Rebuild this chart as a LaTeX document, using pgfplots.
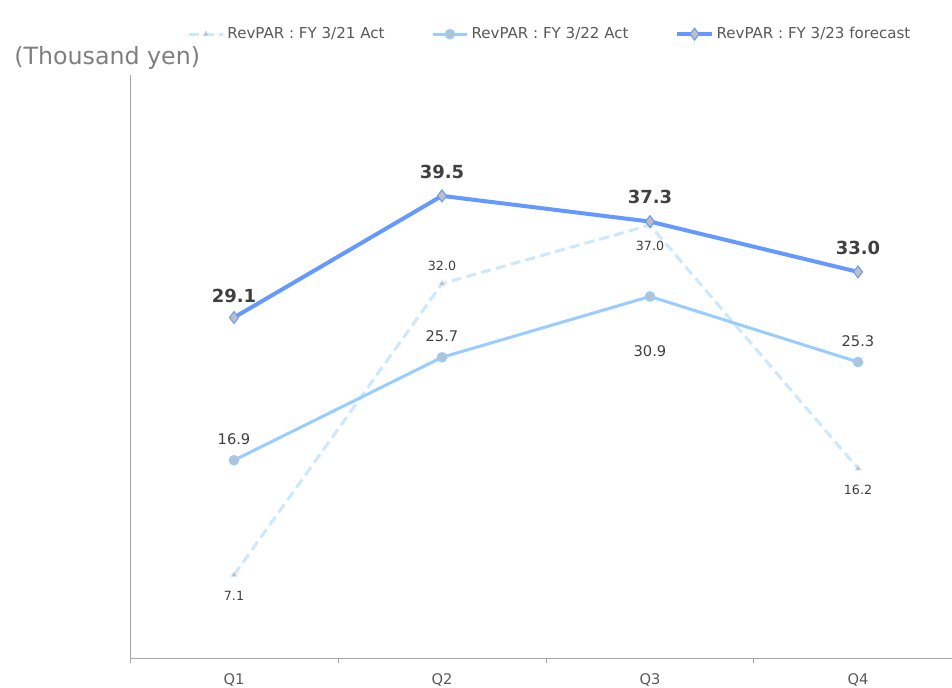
\documentclass[border=0pt]{standalone}
\usepackage{pgfplots}
\usepackage{pgfplotstable}
\pgfplotsset{compat=1.18}
\usepackage{fontspec}
\setmainfont{DejaVu Sans}

\definecolor{fcblue}{HTML}{6699FF}
\definecolor{actB}{HTML}{99CCFF}
\definecolor{actA}{HTML}{CCE8FF}
\definecolor{mkgray}{HTML}{BFBFBF}
\definecolor{axgray}{HTML}{A6A6A6}
\definecolor{txtdark}{HTML}{404040}
\definecolor{txtmid}{HTML}{595959}
\definecolor{txtlight}{HTML}{7F7F7F}

% quarter index, RevPAR (thousand yen), label offset (pt)
\pgfplotstableread{
x y dy
0 7.1 -15.75
1 32.0 13.5
2 37.0 -15.75
3 16.2 -15.75
}\fyA
\pgfplotstableread{
x y dy
0 16.9 15.75
1 25.7 15.75
2 30.9 -41
3 25.3 15.75
}\fyB
\pgfplotstableread{
x y dy
0 29.1 16.5
1 39.5 18
2 37.3 18.5
3 33.0 18
}\fyC

\pgfplotsset{
  value label/.style={
    point meta=y,
    visualization depends on={\thisrow{dy}\as\dy},
    nodes near coords={\pgfmathprintnumber[fixed,zerofill,precision=1,assume math mode=true]{\pgfplotspointmeta}},
    every node near coord/.append style={anchor=center, yshift=\dy pt, text=txtdark, #1},
  },
}

\begin{document}
\begin{tikzpicture}
\useasboundingbox (0,0) rectangle (714pt,515.25pt);
\node[anchor=west, inner sep=0pt, text=txtlight, font=\fontsize{17.8}{20}\selectfont]
  at (10.5pt,471.5pt) {(Thousand yen)};
\begin{axis}[
  at={(97.5pt,21.75pt)}, anchor=south west,
  scale only axis, width=616.5pt, height=437.25pt,
  xmin=-0.5, xmax=3.452, ymin=0, ymax=49.83,
  clip=false,
  axis x line=bottom, axis y line=left,
  axis line style={-, draw=axgray, line width=0.75pt},
  ytick=\empty,
  xtick={0,1,2,3}, xticklabels={Q1,Q2,Q3,Q4},
  major tick length=0pt,
  xticklabel style={font=\fontsize{11}{13}\selectfont, text=txtmid, yshift=-8.5pt},
  extra x ticks={-0.5,0.5,1.5,2.5}, extra x tick labels={},
  extra x tick style={major tick length=4pt, tick align=outside,
    tick style={draw=axgray, line width=0.75pt}},
  legend columns=3,
  legend style={at={(0.511,1.070)}, anchor=center, draw=none, fill=none,
    font=\fontsize{11.3}{13}\selectfont, text=txtmid,
    /tikz/every even column/.append style={column sep=33pt}},
  legend image code/.code={\draw[mark repeat=2, mark phase=2, #1]
    plot coordinates {(0pt,0pt) (13pt,0pt) (26pt,0pt)};},
]
\addplot[actA, line width=2.25pt, dash pattern=on 7.5pt off 4pt,
  mark=triangle*, mark size=2.5pt,
  mark options={solid, fill=mkgray, draw=actA, line width=0.5pt},
  value label={font=\fontsize{9.5}{11}\selectfont}]
  table[x=x, y=y] {\fyA};
\addlegendentry{RevPAR : FY 3/21 Act}
\addplot[actB, line width=2.25pt,
  mark=*, mark size=3.5pt,
  mark options={solid, fill=mkgray!70!actB, draw=actB, line width=1pt},
  value label={font=\fontsize{11}{13}\selectfont}]
  table[x=x, y=y] {\fyB};
\addlegendentry{RevPAR : FY 3/22 Act}
\addplot[fcblue, line width=3pt,
  mark=diamond*, mark size=4.5pt,
  mark options={solid, fill=mkgray, draw=fcblue, line width=0.75pt},
  value label={font=\bfseries\fontsize{13.5}{15}\selectfont}]
  table[x=x, y=y] {\fyC};
\addlegendentry{RevPAR : FY 3/23 forecast}
\end{axis}
\end{tikzpicture}
\end{document}
